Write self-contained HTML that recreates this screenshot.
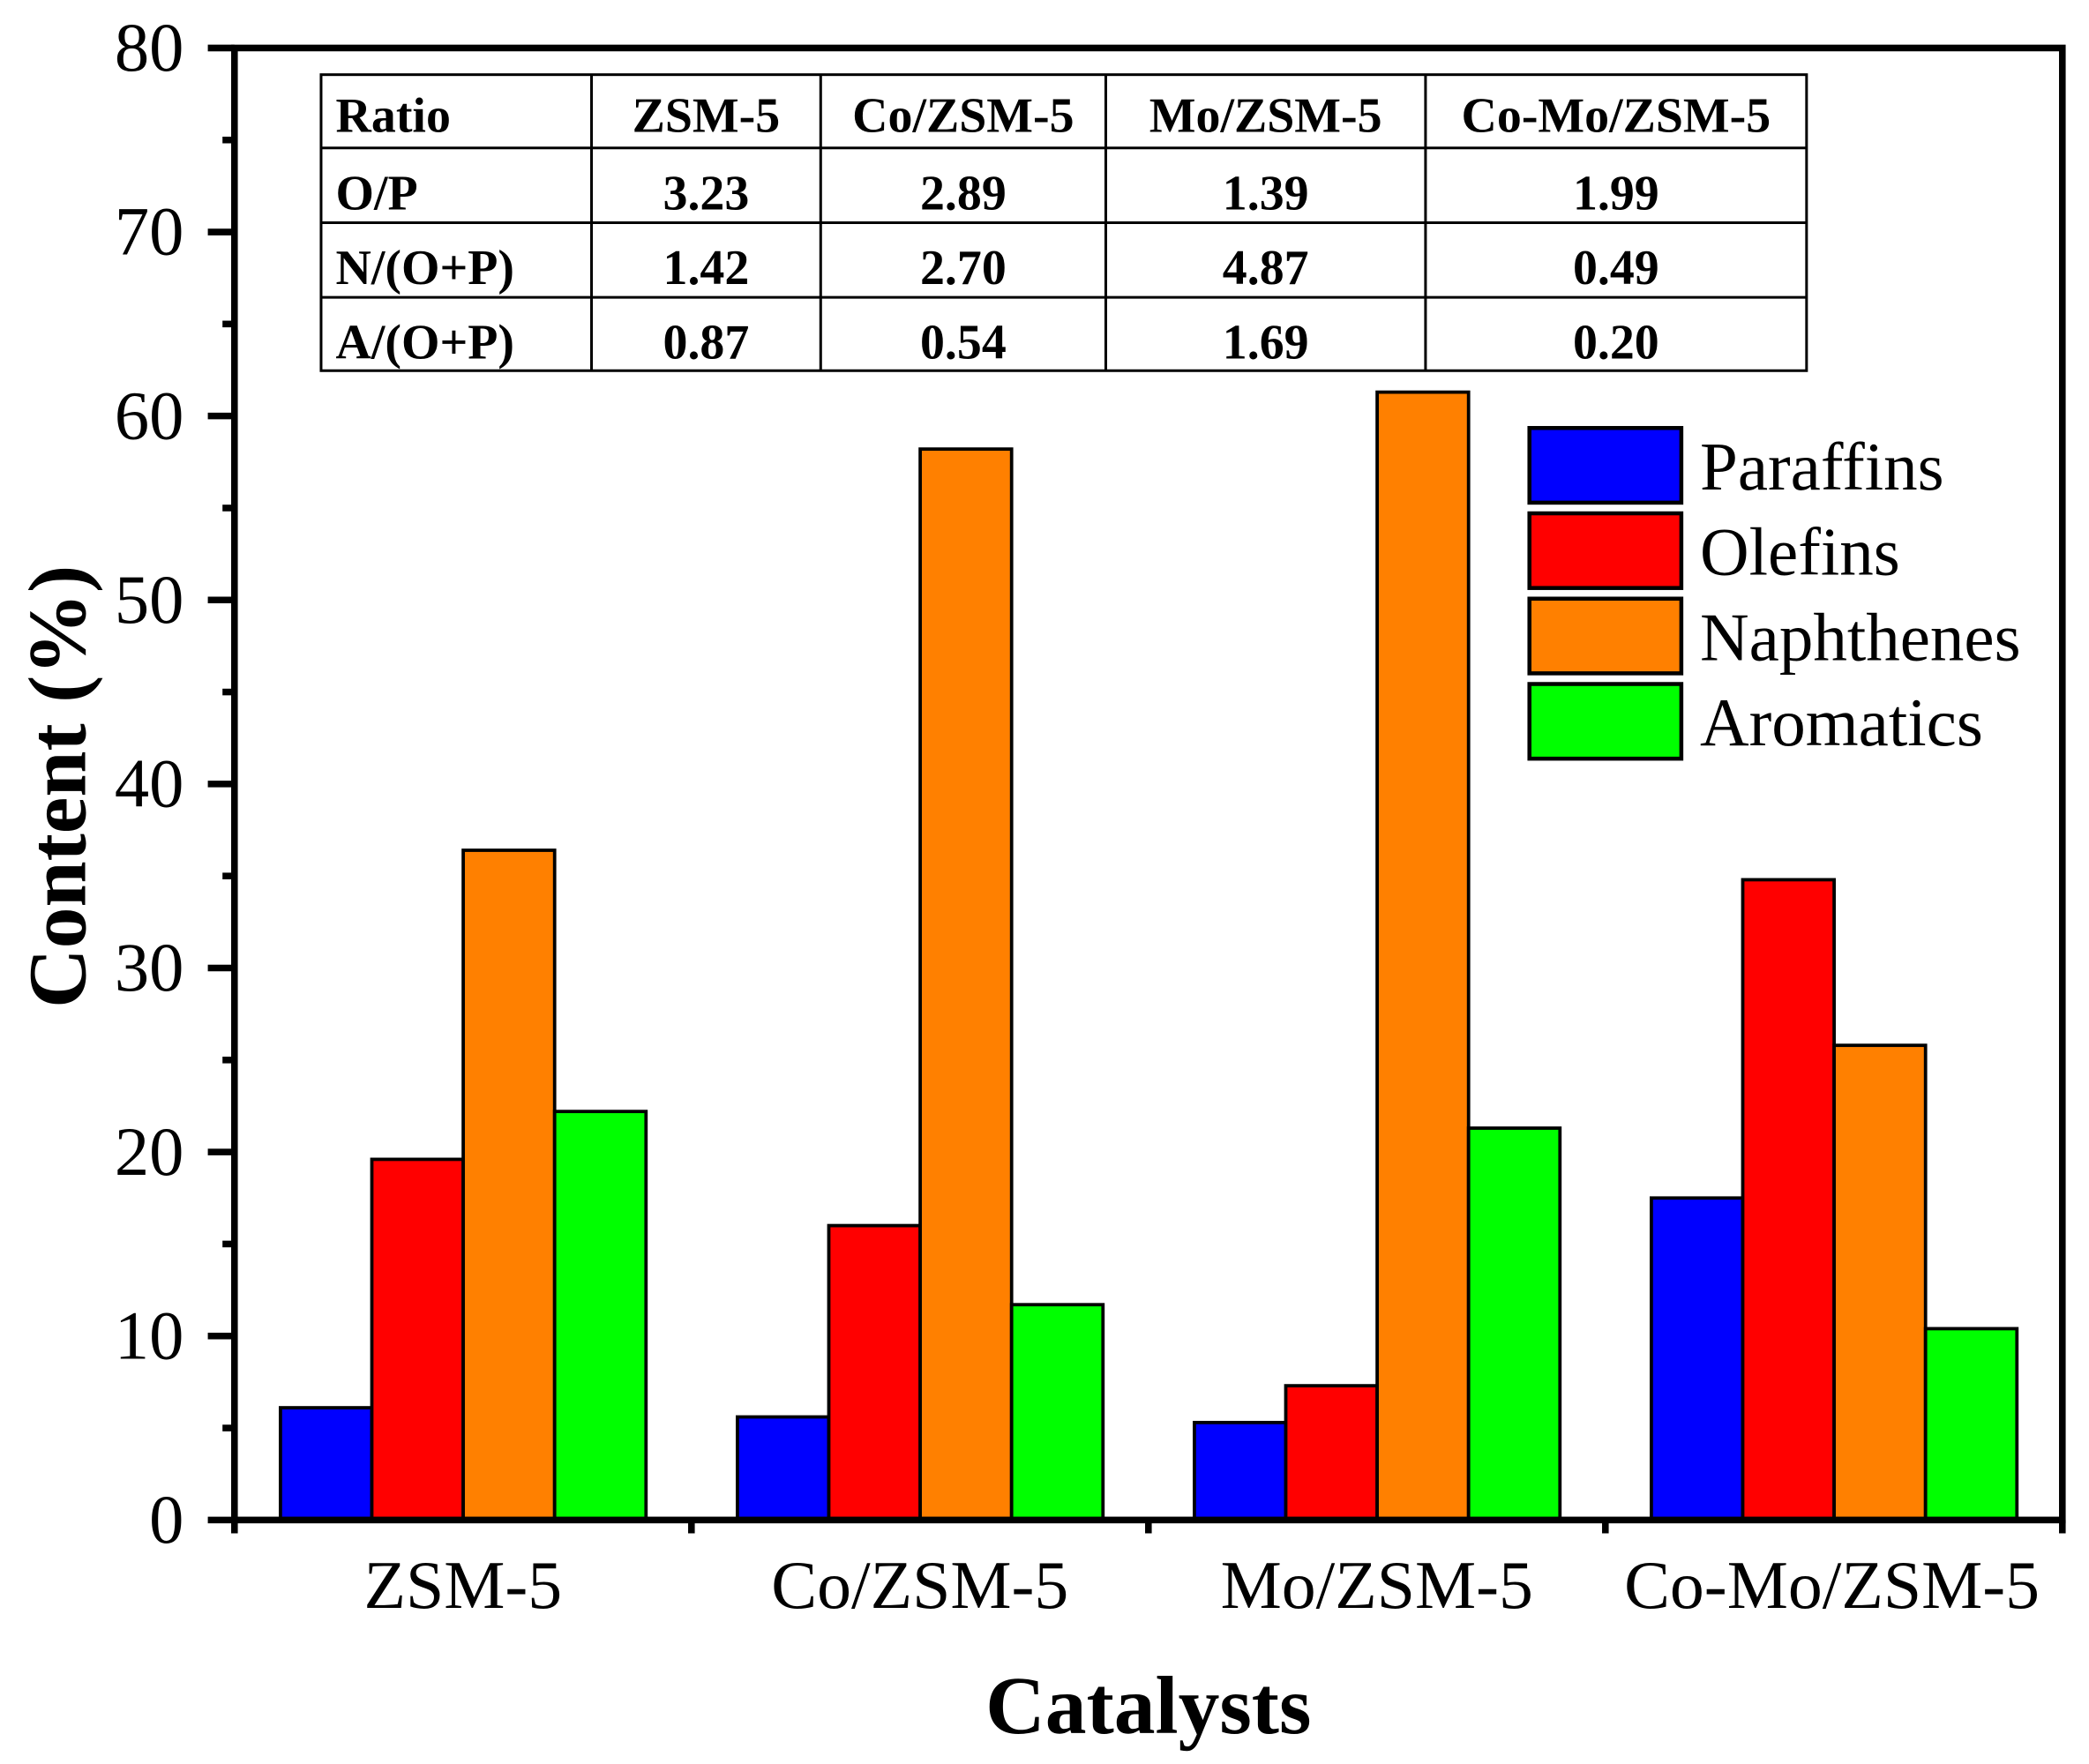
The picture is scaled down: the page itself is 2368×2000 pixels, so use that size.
<!DOCTYPE html>
<html><head><meta charset="utf-8"><style>
html,body{margin:0;padding:0;background:#fff;}
svg{display:block;}
text{font-family:"Liberation Serif","Times New Roman",serif;fill:#000;}
</style></head><body>
<svg width="2368" height="2000" viewBox="0 0 1568 1323" preserveAspectRatio="none" xmlns="http://www.w3.org/2000/svg">
<g stroke="#000" stroke-width="2.5">
<rect x="210.5" y="1055.8" width="68.6" height="84.2" fill="#0000FF"/>
<rect x="279.1" y="869.5" width="68.6" height="270.5" fill="#FF0000"/>
<rect x="347.7" y="637.7" width="68.6" height="502.3" fill="#FF8000"/>
<rect x="416.3" y="833.6" width="68.6" height="306.4" fill="#00FF00"/>
<rect x="553.5" y="1062.7" width="68.6" height="77.3" fill="#0000FF"/>
<rect x="622.1" y="919.2" width="68.6" height="220.8" fill="#FF0000"/>
<rect x="690.7" y="336.8" width="68.6" height="803.2" fill="#FF8000"/>
<rect x="759.3" y="978.5" width="68.6" height="161.5" fill="#00FF00"/>
<rect x="896.5" y="1066.9" width="68.6" height="73.1" fill="#0000FF"/>
<rect x="965.1" y="1039.3" width="68.6" height="100.7" fill="#FF0000"/>
<rect x="1033.7" y="294.1" width="68.6" height="845.9" fill="#FF8000"/>
<rect x="1102.3" y="846.1" width="68.6" height="293.9" fill="#00FF00"/>
<rect x="1239.5" y="898.5" width="68.6" height="241.5" fill="#0000FF"/>
<rect x="1308.1" y="659.8" width="68.6" height="480.2" fill="#FF0000"/>
<rect x="1376.7" y="784.0" width="68.6" height="356.0" fill="#FF8000"/>
<rect x="1445.3" y="996.5" width="68.6" height="143.5" fill="#00FF00"/>
</g>
<rect x="176" y="36" width="1372" height="1104" fill="none" stroke="#000" stroke-width="5"/>
<g stroke="#000" stroke-width="5">
<line x1="156" y1="1140" x2="176" y2="1140"/>
<line x1="156" y1="1002" x2="176" y2="1002"/>
<line x1="156" y1="864" x2="176" y2="864"/>
<line x1="156" y1="726" x2="176" y2="726"/>
<line x1="156" y1="588" x2="176" y2="588"/>
<line x1="156" y1="450" x2="176" y2="450"/>
<line x1="156" y1="312" x2="176" y2="312"/>
<line x1="156" y1="174" x2="176" y2="174"/>
<line x1="156" y1="36" x2="176" y2="36"/>
<line x1="167" y1="1071" x2="176" y2="1071"/>
<line x1="167" y1="933" x2="176" y2="933"/>
<line x1="167" y1="795" x2="176" y2="795"/>
<line x1="167" y1="657" x2="176" y2="657"/>
<line x1="167" y1="519" x2="176" y2="519"/>
<line x1="167" y1="381" x2="176" y2="381"/>
<line x1="167" y1="243" x2="176" y2="243"/>
<line x1="167" y1="105" x2="176" y2="105"/>
<line x1="176" y1="1140" x2="176" y2="1150"/>
<line x1="519" y1="1140" x2="519" y2="1150"/>
<line x1="862" y1="1140" x2="862" y2="1150"/>
<line x1="1205" y1="1140" x2="1205" y2="1150"/>
<line x1="1548" y1="1140" x2="1548" y2="1150"/>
</g>
<g font-size="52" text-anchor="end">
<text x="138" y="1157">0</text>
<text x="138" y="1019">10</text>
<text x="138" y="881">20</text>
<text x="138" y="743">30</text>
<text x="138" y="605">40</text>
<text x="138" y="467">50</text>
<text x="138" y="329">60</text>
<text x="138" y="191">70</text>
<text x="138" y="53">80</text>
</g>
<g font-size="51.5" text-anchor="middle">
<text x="347.5" y="1206">ZSM-5</text>
<text x="690.5" y="1206">Co/ZSM-5</text>
<text x="1033.5" y="1206">Mo/ZSM-5</text>
<text x="1375" y="1206">Co-Mo/ZSM-5</text>
</g>
<text x="862" y="1300" font-size="62" font-weight="bold" text-anchor="middle">Catalysts</text>
<text transform="translate(64,590) rotate(-90)" font-size="62" font-weight="bold" text-anchor="middle">Content (%)</text>
<g stroke="#000" stroke-width="2" fill="none">
<rect x="241" y="56" width="1115" height="222"/>
<line x1="241" y1="111" x2="1356" y2="111"/>
<line x1="241" y1="167" x2="1356" y2="167"/>
<line x1="241" y1="223" x2="1356" y2="223"/>
<line x1="444" y1="56" x2="444" y2="278"/>
<line x1="616" y1="56" x2="616" y2="278"/>
<line x1="830" y1="56" x2="830" y2="278"/>
<line x1="1070" y1="56" x2="1070" y2="278"/>
</g>
<g font-size="37" font-weight="bold">
<text x="252" y="99">Ratio</text>
<text x="252" y="157">O/P</text>
<text x="252" y="213">N/(O+P)</text>
<text x="252" y="269">A/(O+P)</text>
</g>
<g font-size="37" font-weight="bold" text-anchor="middle">
<text x="530" y="99">ZSM-5</text>
<text x="723" y="99">Co/ZSM-5</text>
<text x="950" y="99">Mo/ZSM-5</text>
<text x="1213" y="99">Co-Mo/ZSM-5</text>
<text x="530" y="157">3.23</text>
<text x="723" y="157">2.89</text>
<text x="950" y="157">1.39</text>
<text x="1213" y="157">1.99</text>
<text x="530" y="213">1.42</text>
<text x="723" y="213">2.70</text>
<text x="950" y="213">4.87</text>
<text x="1213" y="213">0.49</text>
<text x="530" y="269">0.87</text>
<text x="723" y="269">0.54</text>
<text x="950" y="269">1.69</text>
<text x="1213" y="269">0.20</text>
</g>
<g stroke="#000" stroke-width="3">
<rect x="1148" y="321" width="114" height="56" fill="#0000FF"/>
<rect x="1148" y="385" width="114" height="56" fill="#FF0000"/>
<rect x="1148" y="449" width="114" height="56" fill="#FF8000"/>
<rect x="1148" y="513" width="114" height="56" fill="#00FF00"/>
</g>
<g font-size="51">
<text x="1276" y="367">Paraffins</text>
<text x="1276" y="431">Olefins</text>
<text x="1276" y="495">Naphthenes</text>
<text x="1276" y="559">Aromatics</text>
</g>
</svg>
</body></html>
